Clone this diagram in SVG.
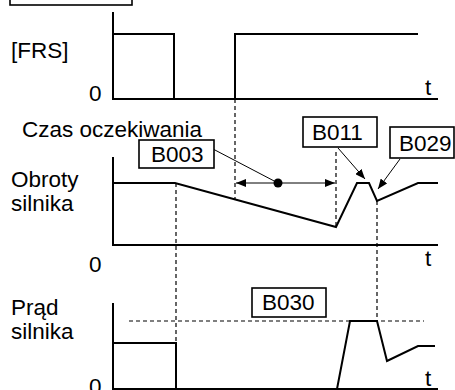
<svg xmlns="http://www.w3.org/2000/svg" width="455" height="390" viewBox="0 0 455 390">
<defs>
<style>
.t{font-family:"Liberation Sans",Arial,sans-serif;font-size:22.5px;fill:#000}
.w{fill:none;stroke:#000;stroke-width:2;stroke-linejoin:miter}
.d{fill:none;stroke:#000;stroke-width:1.2;stroke-dasharray:4,3}
.b{fill:#fff;stroke:#000;stroke-width:1.6}
.l{fill:none;stroke:#000;stroke-width:1}
</style>
<marker id="ah" viewBox="0 0 10 8" refX="10" refY="4" markerWidth="10" markerHeight="8" markerUnits="userSpaceOnUse" orient="auto">
<path d="M0,0 L10,4 L0,8 Z" fill="#000"/>
</marker>
</defs>
<rect width="455" height="390" fill="#fff"/>
<g id="top-box"><rect class="b" x="10" y="-4" width="122" height="9"/></g>
<g id="labels">
<text class="t" x="11" y="58">[FRS]</text>
<text class="t" x="89" y="101">0</text>
<text class="t" x="425" y="95">t</text>
<text class="t" x="22" y="137">Czas oczekiwania</text>
<text class="t" x="11" y="187">Obroty</text>
<text class="t" x="11" y="211">silnika</text>
<text class="t" x="89" y="272">0</text>
<text class="t" x="425" y="266">t</text>
<text class="t" x="11" y="315">Prąd</text>
<text class="t" x="11" y="339">silnika</text>
<text class="t" x="89" y="394">0</text>
<text class="t" x="425" y="386">t</text>
</g>
<g id="axes">
<path class="w" d="M113,12 V99 H438"/>
<path class="w" d="M113,157 V245 H438"/>
<path class="w" d="M113,303 V389 H438"/>
</g>
<g id="traces">
<path class="w" d="M113,34 H174 V99"/>
<path class="w" d="M235,99 V34 H418"/>
<path class="w" d="M113,183 H175 L336,227 L357,183 H369 L377,201 L418,183 H438"/>
<path class="w" d="M113,343 H176 V389"/>
<path class="w" d="M337,389 L350,321 H377 L387,361 L418,346 H435"/>
</g>
<g id="connectors">
<path class="d" d="M176,183 V343"/>
<path class="d" d="M235,99 V199"/>
<path class="d" d="M336,152 V227"/>
<path class="d" d="M377,201 V321"/>
<path class="d" d="M129,321 H424"/>
<path class="l" d="M278,183 H236" marker-end="url(#ah)"/>
<path class="l" d="M278,183 H335" marker-end="url(#ah)"/>
<circle cx="278" cy="183" r="4.5" fill="#000"/>
<path class="l" d="M213,149 L278,183"/>
<path class="l" d="M338,148 L365,179" marker-end="url(#ah)"/>
<path class="l" d="M400,159 L378,189" marker-end="url(#ah)"/>
</g>
<g id="B003"><rect class="b" x="139" y="140" width="75" height="28"/><text class="t" x="151" y="162">B003</text></g>
<g id="B011"><rect class="b" x="303" y="117" width="74" height="30"/><text class="t" x="312" y="140">B011</text></g>
<g id="B029"><rect class="b" x="390" y="127" width="64" height="31"/><text class="t" x="399" y="151">B029</text></g>
<g id="B030"><rect class="b" x="252" y="288" width="74" height="29"/><text class="t" x="262" y="310">B030</text></g>
</svg>
